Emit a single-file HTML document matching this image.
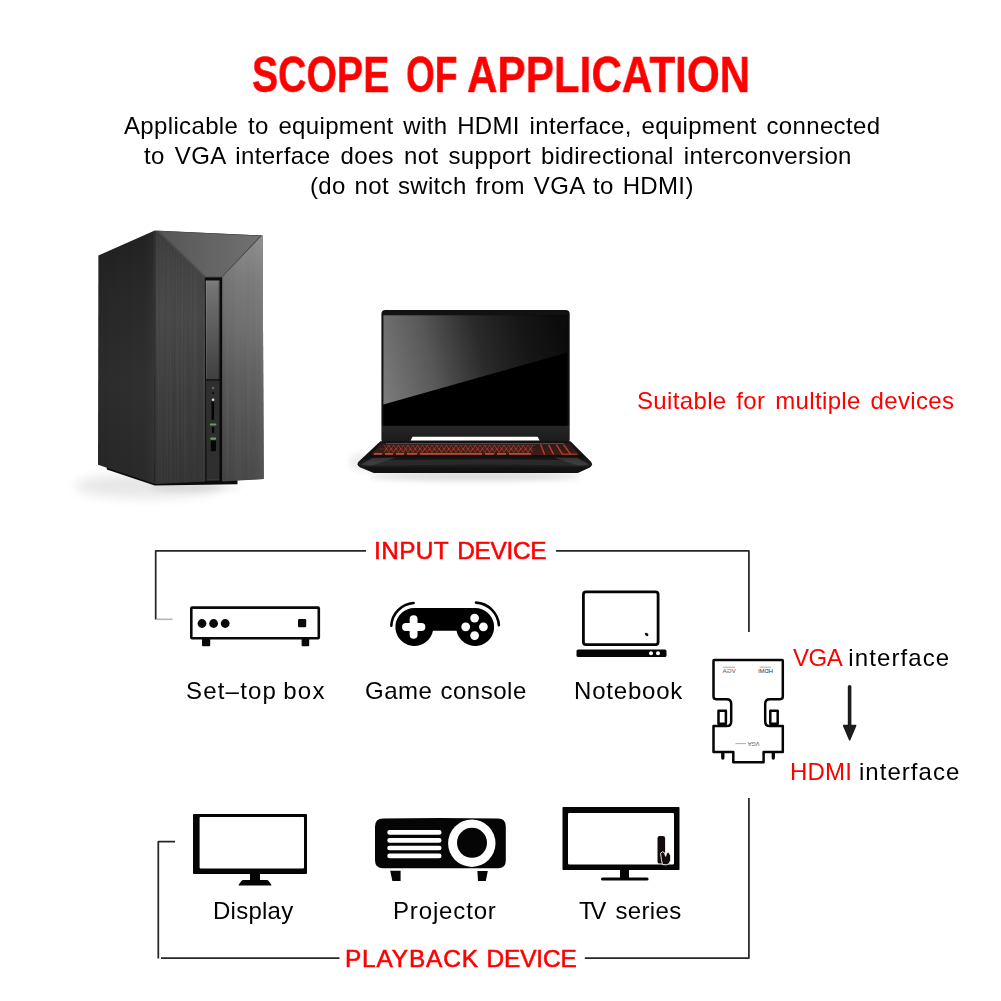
<!DOCTYPE html>
<html lang="en">
<head>
<meta charset="utf-8">
<title>Scope of application</title>
<style>
html,body{margin:0;padding:0;background:#fff;}
body{width:1001px;height:1001px;position:relative;overflow:hidden;font-family:"Liberation Sans",sans-serif;color:#111;}
#art{position:absolute;left:0;top:0;width:1001px;height:1001px;display:block;}
.t{will-change:transform;position:absolute;white-space:pre;font-size:24px;line-height:30px;height:30px;margin:0;font-weight:400;color:#000;}
.red{color:#ff0000;}
.hd{-webkit-text-stroke:0.55px #ff0000;font-size:24.4px;}
#title{position:absolute;left:0;top:45px;width:1001px;height:60px;margin:0;font-size:50px;line-height:60px;font-weight:700;color:#ff0000;white-space:pre;}
#title span{-webkit-text-stroke:0.45px #ff0000;will-change:transform;position:absolute;top:0;transform-origin:0 0;display:block;}
</style>
</head>
<body>
<svg id="art" width="1001" height="1001" viewBox="0 0 1001 1001">
<defs>
<filter id="blur6" x="-30%" y="-60%" width="160%" height="220%"><feGaussianBlur stdDeviation="6"/></filter>
<filter id="blur3" x="-30%" y="-80%" width="160%" height="260%"><feGaussianBlur stdDeviation="3"/></filter>
<filter id="blur1"><feGaussianBlur stdDeviation="0.7"/></filter>
<linearGradient id="pcSide" x1="0" y1="0" x2="0" y2="1"><stop offset="0" stop-color="#212121"/><stop offset="0.25" stop-color="#292929"/><stop offset="0.6" stop-color="#2f2f2f"/><stop offset="1" stop-color="#292929"/></linearGradient>
<linearGradient id="pcSideV" x1="0" y1="0" x2="1" y2="0"><stop offset="0" stop-color="#000" stop-opacity="0.08"/><stop offset="0.7" stop-color="#000" stop-opacity="0"/><stop offset="1" stop-color="#fff" stop-opacity="0.04"/></linearGradient>
<linearGradient id="pcFront" x1="0" y1="0" x2="0" y2="1"><stop offset="0" stop-color="#3b3b3b"/><stop offset="0.2" stop-color="#444"/><stop offset="0.35" stop-color="#464646"/><stop offset="0.65" stop-color="#3c3c3c"/><stop offset="1" stop-color="#333"/></linearGradient>
<linearGradient id="pcFrontR" x1="0" y1="0" x2="0" y2="1"><stop offset="0" stop-color="#8c8c8c"/><stop offset="0.18" stop-color="#7a7a7a"/><stop offset="0.38" stop-color="#6e6e6e"/><stop offset="0.59" stop-color="#5d5d5d"/><stop offset="0.8" stop-color="#515151"/><stop offset="1" stop-color="#474747"/></linearGradient>
<linearGradient id="pcFrontRH" x1="0" y1="0" x2="1" y2="0"><stop offset="0" stop-color="#000" stop-opacity="0.06"/><stop offset="0.5" stop-color="#000" stop-opacity="0"/><stop offset="1" stop-color="#fff" stop-opacity="0.05"/></linearGradient>
<linearGradient id="pcV" x1="0" y1="0" x2="1" y2="0"><stop offset="0" stop-color="#565656"/><stop offset="0.5" stop-color="#646464"/><stop offset="1" stop-color="#717171"/></linearGradient>
<linearGradient id="pcStripV" x1="0" y1="0" x2="1" y2="0"><stop offset="0" stop-color="#fff" stop-opacity="0.14"/><stop offset="0.1" stop-color="#fff" stop-opacity="0"/><stop offset="0.85" stop-color="#000" stop-opacity="0"/><stop offset="1" stop-color="#000" stop-opacity="0.25"/></linearGradient>
<linearGradient id="pcFrontV" x1="0" y1="0" x2="0" y2="1"><stop offset="0" stop-color="#fff" stop-opacity="0.06"/><stop offset="0.4" stop-color="#fff" stop-opacity="0"/><stop offset="1" stop-color="#000" stop-opacity="0.08"/></linearGradient>
<filter id="brush" x="0" y="0" width="100%" height="100%"><feTurbulence type="fractalNoise" baseFrequency="0.85 0.004" numOctaves="2" seed="7" result="n"/><feColorMatrix in="n" type="matrix" values="0 0 0 0 1  0 0 0 0 1  0 0 0 0 1  1.6 0 0 0 -0.62" result="w"/><feComposite in="w" in2="SourceGraphic" operator="in"/></filter>
<linearGradient id="pcStrip" x1="0" y1="0" x2="0" y2="1"><stop offset="0" stop-color="#808080"/><stop offset="0.06" stop-color="#747474"/><stop offset="0.3" stop-color="#666"/><stop offset="0.55" stop-color="#595959"/><stop offset="0.8" stop-color="#4a4a4a"/><stop offset="1" stop-color="#404040"/></linearGradient>
<linearGradient id="lapGlare" gradientUnits="userSpaceOnUse" x1="384" y1="404" x2="568" y2="358"><stop offset="0" stop-color="#7c7c7c"/><stop offset="0.11" stop-color="#6e6e6e"/><stop offset="0.3" stop-color="#575757"/><stop offset="0.38" stop-color="#484848"/><stop offset="0.565" stop-color="#2a2a2a"/><stop offset="0.8" stop-color="#161616"/><stop offset="1" stop-color="#0c0c0c"/></linearGradient>
<linearGradient id="lapLid" x1="0" y1="0" x2="0" y2="1"><stop offset="0" stop-color="#121212"/><stop offset="0.86" stop-color="#131313"/><stop offset="0.875" stop-color="#262626"/><stop offset="1" stop-color="#1a1a1a"/></linearGradient>
<linearGradient id="lapKb" x1="0" y1="0" x2="0" y2="1"><stop offset="0" stop-color="#2c1a18"/><stop offset="1" stop-color="#3e1c17"/></linearGradient>
<linearGradient id="lapPalm" x1="0" y1="0" x2="0" y2="1"><stop offset="0" stop-color="#0c0c0c"/><stop offset="0.4" stop-color="#1a1a1a"/><stop offset="1" stop-color="#1c1c1c"/></linearGradient>

</defs>
<g id="pc">
<ellipse cx="148" cy="486" rx="74" ry="12" fill="#000" opacity="0.095" filter="url(#blur6)"/>
<ellipse cx="196" cy="488" rx="46" ry="3.5" fill="#000" opacity="0.08" filter="url(#blur3)"/>
<path d="M106.8,466 L106.8,469.6 L154.7,485.4 L237.5,484.2 L237.5,478 L155,480 Z" fill="#0b0b0b"/>
<path d="M98.4,255.6 L154.8,230.5 L155,484 L98,464.7 Z" fill="url(#pcSide)"/>
<path d="M98.4,255.6 L154.8,230.5 L155,484 L98,464.7 Z" fill="url(#pcSideV)"/>
<path d="M154.8,230.5 L262.6,235.5 L263.7,479 L155,484 Z" fill="url(#pcFront)"/>
<path d="M262.6,235.5 L263.7,479 L222,481.4 L222,277 Z" fill="url(#pcFrontR)"/>
<path d="M262.6,235.5 L263.7,479 L222,481.4 L222,277 Z" fill="url(#pcFrontRH)"/>
<path d="M154.8,230.5 L262.6,235.5 L263.7,479 L155,484 Z" fill="#fff" filter="url(#brush)" opacity="0.06"/>
<path d="M156.8,230.7 L262.3,235.6 L223.6,277.6 L204.4,277.6 Z" fill="#4e4e4e"/>
<path d="M160.2,231.4 L260,236.1 L221.8,276.4 L205.8,276.4 Z" fill="url(#pcV)"/>
<path d="M262.3,235.8 L222.9,277.4" stroke="#9c9c9c" stroke-width="1" fill="none" opacity="0.8"/>
<path d="M154.9,231 V484" stroke="#1d1d1d" stroke-width="1" fill="none" opacity="0.85"/>
<path d="M204.8,277.6 H222.2 L222.2,482.6 L205.4,483.2 Z" fill="#0b0b0b"/>
<path d="M205.8,280.6 H219.5 V379.2 H206 Z" fill="url(#pcStrip)"/>
<path d="M205.8,280.6 H219.5 V379.2 H206 Z" fill="url(#pcStripV)"/>
<path d="M205.8,380.4 H219.5 L219.4,480 L206.6,480.4 Z" fill="#2f2f2f"/>
<path d="M206.6,480 H219.4" stroke="#484848" stroke-width="0.8" fill="none"/>
<circle cx="213.1" cy="388" r="1.2" fill="#4f7a4f"/>
<path d="M211.6,394 L213.1,391.6 L214.6,394 Z" fill="#0a0a0a"/>
<circle cx="213.1" cy="399.8" r="1.3" fill="#cfeacc"/>
<path d="M212.8,401.8 V419.8" stroke="#060606" stroke-width="2.6" fill="none"/>
<rect x="209.8" y="423.4" width="6.6" height="2" rx="0.8" fill="#5fa05c"/>
<rect x="212" y="426.8" width="2.2" height="6.2" rx="0.8" fill="#060606"/>
<rect x="210.3" y="437.5" width="5.7" height="2.2" rx="0.8" fill="#5fae5a"/>
<rect x="210.8" y="440.4" width="5.2" height="10.8" rx="1.2" fill="#060606"/>
</g>

<g id="lap">
<ellipse cx="475" cy="476" rx="106" ry="4.5" fill="#000" opacity="0.15" filter="url(#blur3)"/>
<ellipse cx="362" cy="462" rx="13" ry="9" fill="#000" opacity="0.07" filter="url(#blur3)"/>
<rect x="381.4" y="310" width="188.3" height="133" rx="4" fill="url(#lapLid)"/>
<rect x="383.4" y="315.2" width="184.2" height="110.6" fill="#000"/>
<path d="M383.4,315.2 H567.6 V352.4 L383.4,404.4 Z" fill="url(#lapGlare)"/>
<path d="M381.2,441.3 L570.4,441.3 L590.8,461.6 Q593.6,465 589.8,467.4 L579,472.4 Q577.6,473 575.6,473 L376,473 Q374,473 372.4,472.4 L360,467.2 Q355.8,465 358.8,461.6 L380.4,441.3 Z" fill="#121212"/>
<path d="M412.6,436.8 H537.6 L539.6,440.6 H410.6 Z" fill="#fff"/>
<path d="M380.8,443 H569.4 L579.6,455 H371.6 Z" fill="url(#lapKb)"/>
<g filter="url(#blur1)">
<g fill="none" stroke="#d2432c" stroke-linecap="butt">
<path d="M384.0,452.4 L388.8,445.4 L393.6,452.4 L398.4,445.4 L403.2,452.4 L408.0,445.4 L412.8,452.4 L417.6,445.4 L422.4,452.4 L427.2,445.4 L432.0,452.4 L436.8,445.4 L441.6,452.4 L446.4,445.4 L451.2,452.4 L456.0,445.4 L460.8,452.4 L465.6,445.4 L470.4,452.4 L475.2,445.4 L480.0,452.4 L484.8,445.4 L489.6,452.4 L494.4,445.4 L499.2,452.4 L504.0,445.4 L508.8,452.4 L513.6,445.4 L518.4,452.4 L523.2,445.4 L528.0,452.4 L532.8,445.4" stroke-width="1" opacity="0.75"/>
<path d="M384.0,445.4 L388.8,452.4 L393.6,445.4 L398.4,452.4 L403.2,445.4 L408.0,452.4 L412.8,445.4 L417.6,452.4 L422.4,445.4 L427.2,452.4 L432.0,445.4 L436.8,452.4 L441.6,445.4 L446.4,452.4 L451.2,445.4 L456.0,452.4 L460.8,445.4 L465.6,452.4 L470.4,445.4 L475.2,452.4 L480.0,445.4 L484.8,452.4 L489.6,445.4 L494.4,452.4 L499.2,445.4 L504.0,452.4 L508.8,445.4 L513.6,452.4 L518.4,445.4 L523.2,452.4 L528.0,445.4 L532.8,452.4" stroke-width="1" opacity="0.6"/>
<path d="M383,445.6 H536 M379,449 H535" stroke-width="0.8" opacity="0.35"/>
<path d="M374,453.9 H382 M385,453.9 H393 M396,453.9 H404 M407,453.9 H417 M420,453.9 H482 M485,453.9 H494 M497,453.9 H506 M509,453.9 H531" stroke="#f25c38" stroke-width="1.35"/>
<path d="M540.6,444.6 L544.6,454.4 M548.6,444.6 L553.6,454.4 M556.4,444.6 L562.4,454.4 M563.6,444.6 L570.6,454.4" stroke-width="1.3" opacity="0.9"/>
<path d="M562,454.2 H577" stroke-width="1.1" opacity="0.8"/>
</g>
<path d="M386,443.6 H564" stroke="#9a9a9a" stroke-width="0.8" opacity="0.5" fill="none"/>
</g>
<path d="M371.4,455.4 H579.8 L590.6,462 Q592.8,465 589.6,467.2 L360.4,467.2 Q356.8,465 359.2,462 Z" fill="url(#lapPalm)"/>
<g filter="url(#blur1)">
<path d="M361,464.8 L372,460.4 Q475,458.4 578,460.4 L589,464.8 L585,466 Q475,463 365,466 Z" fill="#3a3a3a" opacity="0.5"/>
<path d="M360.6,464.4 L372.6,458 L396,457.6 L372,465.4 Z" fill="#444" opacity="0.7"/>
<path d="M589.4,464.4 L577.4,458 L554,457.6 L578,465.4 Z" fill="#444" opacity="0.7"/>
</g>
</g>

<g fill="none" stroke="#282626" stroke-width="1.75" stroke-linejoin="round">
<path d="M366,550.8 H155.7 V619.4"/>
<path d="M556,550.8 H748.9 V632"/>
<path d="M175,841.7 H158.3 V958.6"/>
<path d="M161,958.1 H339.5" stroke-width="1.8"/>
<path d="M584.8,958.05 H748.9 V798"/>
</g>
<path d="M157,619.3 H172.5" fill="none" stroke="#b5b5b5" stroke-width="1.6"/>
<path d="M849.6,686.7 V728" fill="none" stroke="#1c1c1c" stroke-width="3.6" stroke-linecap="round"/>
<path d="M843.7,725.6 H855.6 L849.65,739.8 Z" fill="#1c1c1c" stroke="#1c1c1c" stroke-width="1.6" stroke-linejoin="round"/>

<g id="stb">
<rect x="191.3" y="607.6" width="127.5" height="30.7" fill="#fff" stroke="#0a0a0a" stroke-width="2.6" rx="0.8"/>
<circle cx="202" cy="623.5" r="4.4" fill="#0a0a0a"/><circle cx="213.6" cy="623.5" r="4.4" fill="#0a0a0a"/><circle cx="225.2" cy="623.5" r="4.4" fill="#0a0a0a"/>
<rect x="298" y="619" width="8.2" height="8.2" rx="1.2" fill="#0a0a0a"/>
<rect x="202" y="638" width="8.2" height="8.2" rx="1" fill="#0a0a0a"/>
<rect x="301.6" y="638" width="7.6" height="8.2" rx="1" fill="#0a0a0a"/>
</g>
<g id="pad">
<path d="M415,608 H474.4 A19,19 0 1 1 456.5,630.8 H433 A19,19 0 1 1 415,608 Z" fill="#000"/>
<path d="M413.6,619.2 V634.8 M406,627 H421.4" stroke="#fff" stroke-width="7.9" stroke-linecap="round" fill="none"/>
<circle cx="474.6" cy="618.1" r="4.4" fill="#fff"/><circle cx="474.6" cy="635.6" r="4.4" fill="#fff"/><circle cx="465.7" cy="626.8" r="4.4" fill="#fff"/><circle cx="483.4" cy="626.8" r="4.4" fill="#fff"/>
<path d="M391.3,625.6 A24,24 0 0 1 413.6,603" stroke="#000" stroke-width="2.6" stroke-linecap="round" fill="none"/>
<path d="M476,602.6 A24.3,24.3 0 0 1 498.9,625.2" stroke="#000" stroke-width="2.6" stroke-linecap="round" fill="none"/>
</g>
<g id="nb">
<rect x="583.4" y="591.9" width="74.7" height="52.7" rx="2.6" fill="#fff" stroke="#050505" stroke-width="2.8"/>
<rect x="576.5" y="649.5" width="90" height="7.5" rx="1.6" fill="#050505"/>
<circle cx="651" cy="653.3" r="2" fill="#fff"/><circle cx="658" cy="653.3" r="2" fill="#fff"/>
<ellipse cx="646.6" cy="634.4" rx="2" ry="1.4" transform="rotate(40 646.6 634.4)" fill="#111"/>
</g>

<g id="adp" fill="none" stroke="#050505" stroke-width="2.5" stroke-linejoin="round">
<path d="M714.3,660 H782 Q782.8,660 782.8,660.8 V696.6 Q782.8,699.2 780.2,699.2 H769.8 Q765.2,699.2 765.2,703.8 V721.4 Q765.2,726 769.8,726 H782.8 V752 H763.6 V762.2 H733.3 V752 H713.5 V726 H726.6 Q731.2,726 731.2,721.4 V703.8 Q731.2,699.2 726.6,699.2 H716.1 Q713.5,699.2 713.5,696.6 V660.8 Q713.5,660 714.3,660 Z" fill="#fff"/>
<rect x="718.5" y="710.8" width="7.4" height="13" fill="#fff"/>
<rect x="770.3" y="710.8" width="7.4" height="13" fill="#fff"/>
<path d="M722.8,753 V758" stroke-width="3.3" stroke-linecap="round"/>
<path d="M773.3,753 V758" stroke-width="3.3" stroke-linecap="round"/>
</g>
<g font-family="'Liberation Sans',sans-serif" font-size="5.6" fill="#555" text-anchor="middle">
<text transform="translate(729.2 673) scale(-1 1)" textLength="13" lengthAdjust="spacingAndGlyphs">VGA</text>
<text transform="translate(765.6 673) scale(-1 1)" textLength="15" lengthAdjust="spacingAndGlyphs" fill="#333">HDMI</text>
<text transform="translate(753.6 741.6) rotate(180)" textLength="12" lengthAdjust="spacingAndGlyphs">VGA</text>
</g>
<path d="M723,667.2 H735 M759.5,667.2 H771 M735.5,743.6 H746" stroke="#888" stroke-width="0.7" fill="none"/>

<g id="disp-i">
<path fill-rule="evenodd" fill="#050505" d="M194,814 H306 Q307,814 307,815 V873 Q307,874 306,874 H194 Q193,874 193,873 V815 Q193,814 194,814 Z M200.4,817 Q199.6,817 199.6,817.8 V867.6 Q199.6,868.4 200.4,868.4 H303.2 Q304,868.4 304,867.6 V817.8 Q304,817 303.2,817 Z"/>
<path fill="#050505" d="M250,873 H260 V880 H266.5 Q268,880 268.8,881.2 L271.2,884.6 Q271.8,885.6 270.6,885.6 H239.4 Q238.2,885.6 238.8,884.6 L241.2,881.2 Q242,880 243.5,880 H250 Z"/>
</g>
<g id="proj-i">
<path fill="#050505" d="M383,818.6 Q440,817.2 498,818.6 Q505.8,818.8 505.8,826.6 V860.4 Q505.8,868.2 498,868.2 H383 Q375,868.2 375,860.2 V826.6 Q375,818.8 383,818.6 Z"/>
<g fill="none" stroke="#fff" stroke-width="4.7" stroke-linecap="round">
<path d="M389.6,832.4 H439.2 M389.6,840.4 H439.2 M389.6,848 H439.2 M389.6,855.9 H439.2"/>
</g>
<circle cx="471.8" cy="843.2" r="23.7" fill="#fff"/>
<circle cx="472" cy="842.8" r="15" fill="#050505"/>
<path fill="#050505" d="M390.2,870.8 H400.6 V881 H392.4 Z M477.4,871 H487.8 L485.8,881 H478 Z"/>
</g>
<g id="tv-i">
<path fill-rule="evenodd" fill="#050505" d="M563.3,807 H678.7 Q679.5,807 679.5,807.8 V869.2 Q679.5,870 678.7,870 H563.3 Q562.5,870 562.5,869.2 V807.8 Q562.5,807 563.3,807 Z M569.2,813 Q568,813 568,814.2 V863.3 Q568,864.5 569.2,864.5 H672.8 Q674,864.5 674,863.3 V814.2 Q674,813 672.8,813 Z"/>
<path fill="#050505" d="M620,869 H629 V877.4 H647 Q648.6,877.4 648.6,879 Q648.6,880.6 647,880.6 H602.6 Q601,880.6 601,879 Q601,877.4 602.6,877.4 H620 Z"/>
<rect x="657.5" y="836" width="7.6" height="27.6" rx="2.2" fill="#140c0c"/>
<path d="M660.6,853.2 Q662.6,850.6 664.4,852.6 L665.6,856.4 Q666.6,851.4 668.8,852.2 Q671.6,855.4 670.6,860.4 Q669.6,864.6 666.6,864.8 L662.6,864.6 Q661.2,860.6 660.6,853.2 Z" fill="#140c0c" stroke="#fff" stroke-width="0.9"/>
</g>

</svg>
<h1 id="title"><span style="left:252.3px;transform:scaleX(0.784)">SCOPE</span> <span style="left:405.6px;transform:scaleX(0.741)">OF</span> <span style="left:467.2px;transform:scaleX(0.845)">APPLICATION</span></h1>
<div class="t" id="l1" style="left:123.6px;top:111.2px;letter-spacing:0.35px;word-spacing:2.7px">Applicable to equipment with HDMI interface, equipment connected</div>
<div class="t" id="l2" style="left:144.4px;top:141.2px;letter-spacing:0.35px;word-spacing:3.05px">to VGA interface does not support bidirectional interconversion</div>
<div class="t" id="l3" style="left:309.7px;top:171.2px;letter-spacing:0.35px;word-spacing:1.85px">(do not switch from VGA to HDMI)</div>
<div class="t red" id="suit" style="left:636.5px;top:386.3px;letter-spacing:0.35px;word-spacing:2.8px">Suitable for multiple devices</div>
<div class="t red hd" id="inp" style="left:374.4px;top:536px;letter-spacing:-0.08px;word-spacing:1.4px"><span style="letter-spacing:0.4px">INPUT</span> <span style="letter-spacing:-0.3px">DEVICE</span></div>
<div class="t" id="stb" style="left:186px;top:675.7px;letter-spacing:1.2px;word-spacing:-1.7px">Set–top box</div>
<div class="t" id="game" style="left:365px;top:675.7px;letter-spacing:0.5px;word-spacing:1px">Game console</div>
<div class="t" id="note" style="left:574.2px;top:675.7px;letter-spacing:0.8px;word-spacing:0px">Notebook</div>
<div class="t" id="vga" style="left:793px;top:642.7px;letter-spacing:0.5px;word-spacing:-1px"><span class="red" style="letter-spacing:-0.5px">VGA</span> <span id="if1" style="letter-spacing:1.1px">interface</span></div>
<div class="t" id="hdmi" style="left:790.2px;top:756.8px;letter-spacing:0.5px;word-spacing:-0.4px"><span class="red" style="letter-spacing:0.2px">HDMI</span> <span id="if2" style="letter-spacing:1.05px">interface</span></div>
<div class="t" id="disp" style="left:212.9px;top:896px;letter-spacing:0.25px;word-spacing:0px">Display</div>
<div class="t" id="proj" style="left:393.4px;top:896px;letter-spacing:0.85px;word-spacing:0px">Projector</div>
<div class="t" id="tv" style="left:578.7px;top:896px;letter-spacing:0.1px;word-spacing:5.8px"><span style="letter-spacing:-3.4px">TV</span> <span style="letter-spacing:0.35px">series</span></div>
<div class="t red hd" id="play" style="left:345.4px;top:943.5px;letter-spacing:0.35px;word-spacing:0.7px"><span style="letter-spacing:0.85px">PLAYBACK</span> <span style="letter-spacing:-0.15px">DEVICE</span></div>
</body>
</html>
